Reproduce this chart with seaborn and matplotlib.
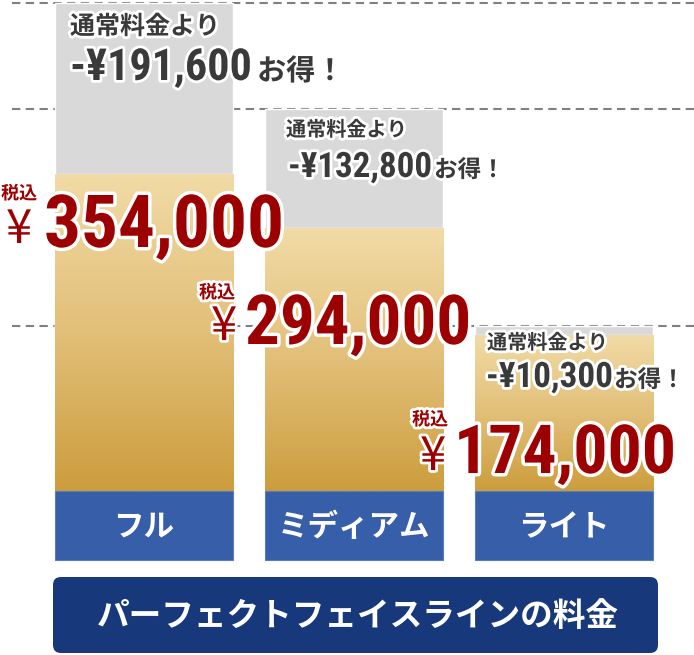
import numpy as np
import pandas as pd
import matplotlib
matplotlib.use("Agg")
import matplotlib.pyplot as plt
import seaborn as sns
from matplotlib import font_manager as fm, patheffects as pe, transforms as mtrans
from matplotlib.patches import FancyBboxPatch, Rectangle
from matplotlib.colors import LinearSegmentedColormap

# ---------------- data ----------------
plans = ["フル", "ミディアム", "ライト"]
prices = [354000, 294000, 174000]
discounts = [191600, 132800, 10300]
price_labels = ["354,000", "294,000", "174,000"]
discount_labels = ["-¥191,600", "-¥132,800", "-¥10,300"]
title = "パーフェクトフェイスラインの料金"

# ---------------- style ----------------
sns.set_theme(style="white")
plt.rcParams["font.family"] = ["Noto Sans CJK JP", "DejaVu Sans"]

names = {f.name for f in fm.fontManager.ttflist}
COND = "DejaVu Sans"
for cand in ["Liberation Sans Narrow", "Roboto Condensed", "Open Sans Condensed",
             "DejaVu Sans Condensed"]:
    if cand in names:
        COND = cand
        break
NUMFONT = dict(family=[COND, "DejaVu Sans"], stretch="condensed", weight="bold")

W, H = 694, 655
fig = plt.figure(figsize=(W / 100, H / 100), dpi=100)
ax = fig.add_axes([0, 0, 1, 1])
ax.set_axis_off()
PX = mtrans.Affine2D().scale(1 / W, -1 / H).translate(0, 1) + fig.transFigure

df = pd.DataFrame({"plan": plans, "price": prices, "discount": discounts})
df["total"] = df["price"] + df["discount"]

BASE = 491                      # pixel row of the zero line
K = df["total"].max() / (BASE - 3)  # yen per pixel
SPACING = 210                   # pixels between bar centres
X0 = 144                        # pixel centre of first bar

# dashed guide lines at each regular price
for t in df["total"]:
    ax.axhline(t, xmin=12 / W, xmax=1, color="#808080", lw=1.5,
               dashes=(4, 2.6), zorder=1)

sns.barplot(data=df, x="plan", y="total", color="#d9d9d9", saturation=1,
            width=0.848, errorbar=None, ax=ax, zorder=2)
n0 = len(ax.patches)
sns.barplot(data=df, x="plan", y="price", color="#ddb86a", saturation=1,
            width=0.848, errorbar=None, ax=ax, zorder=3)
gold = ax.patches[n0:]

cmap = LinearSegmentedColormap.from_list("gold", ["#f1dba6", "#e2bf78", "#cc9d3d"])
grad = np.linspace(0, 1, 256)[:, None]
for p in gold:
    x0, w, h = p.get_x(), p.get_width(), p.get_height()
    im = ax.imshow(grad, cmap=cmap, extent=[x0, x0 + w, 0, h], aspect="auto",
                   origin="upper", zorder=3.5, interpolation="bilinear")
    im.set_clip_path(p)

# blue plan boxes
for p, name in zip(gold, plans):
    ax.add_patch(Rectangle((p.get_x(), 0), p.get_width(), -(560 - BASE) * K,
                           facecolor="#375ea9", edgecolor="#5a7cbb", lw=0.8, zorder=4))
    ax.text(p.get_x() + p.get_width() / 2, -(527 - BASE) * K, name, color="white",
            fontsize=22, fontweight="bold", ha="center", va="center", zorder=5)

ax.set_xlim(-X0 / SPACING, (W - X0) / SPACING)
ax.set_ylim(-(H - BASE) * K, BASE * K)

# title box
box = FancyBboxPatch((53, 577), 605, 76, boxstyle="round,pad=0,rounding_size=8",
                     facecolor="#17387b", edgecolor="none", transform=PX)
fig.add_artist(box)
fig.text(358, 616, title, transform=PX, color="white", fontsize=23.5,
         fontweight="bold", ha="center", va="center")

renderer = fig.canvas.get_renderer()


def fit(x, y, s, width, **kw):
    t = fig.text(x, y, s, transform=PX, fontsize=40, ha="left", va="baseline", **kw)
    w = t.get_window_extent(renderer).width
    t.set_fontsize(40 * width / w)
    return t


white_stroke = [pe.withStroke(linewidth=4, foreground="white")]
white_stroke_big = [pe.withStroke(linewidth=5, foreground="white")]
GRAY = "#3a3a3a"
RED = "#9c0000"

# layout (pixel positions) for annotation texts
disc_layout = [
    dict(tsu=(70, 34, 18), num=(70, 80, 182), otoku=(257, 80, 21)),
    dict(tsu=(286, 136, 14.5), num=(288, 177, 144), otoku=(434, 177, 17)),
    dict(tsu=(487, 349, 14.5), num=(486, 387, 127), otoku=(614, 387, 17)),
]
price_layout = [
    dict(zei=(1, 199), yen=(6, 243), num=(44, 247, 240)),
    dict(zei=(199, 298), yen=(211, 340), num=(245, 344, 226)),
    dict(zei=(412, 425), yen=(420, 470), num=(454, 473, 222)),
]

for dl, lay in zip(discount_labels, disc_layout):
    x, y, fs = lay["tsu"]
    fig.text(x, y, "通常料金より", transform=PX, fontsize=fs, fontweight="bold",
             color=GRAY, ha="left", va="baseline", path_effects=white_stroke, zorder=6)
    x, y, wd = lay["num"]
    fit(x, y, dl, wd, color=GRAY, path_effects=white_stroke, zorder=6, **NUMFONT)
    x, y, fs = lay["otoku"]
    fig.text(x, y, "お得！", transform=PX, fontsize=fs, fontweight="bold",
             color=GRAY, ha="left", va="baseline", path_effects=white_stroke, zorder=6)

for pl, lay in zip(price_labels, price_layout):
    x, y = lay["zei"]
    fig.text(x, y, "税込", transform=PX, fontsize=13, fontweight="bold", color=RED,
             ha="left", va="baseline", path_effects=white_stroke, zorder=7)
    x, y = lay["yen"]
    fig.text(x, y, "¥", transform=PX, fontsize=34, color=RED, ha="left",
             va="baseline", path_effects=white_stroke, zorder=7)
    x, y, wd = lay["num"]
    fit(x, y, pl, wd, color=RED, path_effects=white_stroke_big, zorder=7, **NUMFONT)

fig.savefig("out.png", dpi=100)
